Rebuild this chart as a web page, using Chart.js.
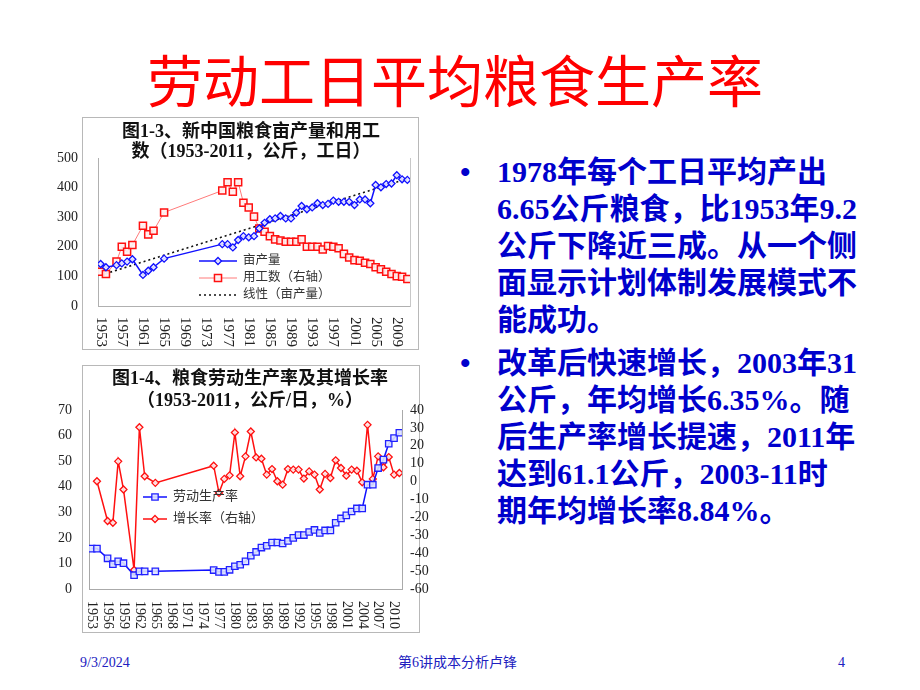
<!DOCTYPE html>
<html>
<head>
<meta charset="utf-8">
<script src="https://cdn.jsdelivr.net/npm/chart.js@4.4.1/dist/chart.umd.min.js"></script>
<style>
  body { margin:0; background:#fff; width:920px; height:690px; position:relative; overflow:hidden; }
  .title { position:absolute; left:0; top:48px; width:910px; text-align:center; color:#ff0000;
    font:56px/60px "Noto Sans CJK SC", sans-serif; }
  .frame { position:absolute; border:1px solid #b8b8b8; box-sizing:border-box; }
  canvas { position:absolute; }
  .bullet { position:absolute; left:460px; width:420px; color:#0000cc;
    font:bold 30px/37px "Liberation Serif", "Noto Sans CJK SC", serif; }
  .bullet .dot { position:absolute; left:0; top:0; }
  .bullet .txt { position:absolute; left:37px; top:0; white-space:nowrap; }
  .foot { position:absolute; top:654px; color:#2020c0; font:14px/18px "Liberation Serif", "Noto Sans CJK SC", serif; }
</style>
</head>
<body>
<div class="title">劳动工日平均粮食生产率</div>

<div class="frame" style="left:82px;top:117px;width:337px;height:233px"></div>
<canvas id="c1" width="420" height="245" style="left:30px;top:112px"></canvas>

<div class="frame" style="left:82px;top:365px;width:338px;height:268px"></div>
<canvas id="c2" width="420" height="275" style="left:30px;top:362px"></canvas>

<div class="bullet" style="top:153px"><span class="dot">•</span><span class="txt">1978年每个工日平均产出<br>6.65公斤粮食，比1953年9.2<br>公斤下降近三成。从一个侧<br>面显示计划体制发展模式不<br>能成功。</span></div>
<div class="bullet" style="top:344px"><span class="dot">•</span><span class="txt">改革后快速增长，2003年31<br>公斤，年均增长6.35%。随<br>后生产率增长提速，2011年<br>达到61.1公斤，2003-11时<br>期年均增长率8.84%。</span></div>

<div class="foot" style="left:80px">9/3/2024</div>
<div class="foot" style="left:398px">第6讲成本分析卢锋</div>
<div class="foot" style="left:838px">4</div>

<script>
/* ---------------------------- data --------------------------------------------- */

const years = [1953,1954,1956,1957,1958,1959,1961,1962,1963,1965,
    1976,1977,1978,1979,1980,1981,1982,1983,1984,1985,1986,1987,1988,1989,1990,
    1991,1992,1993,1994,1995,1996,1997,1998,1999,2000,2001,2002,2003,2004,2005,
    2006,2007,2008,2009,2010,2011]

// 图1-3
const yieldPerMu = [142,131,138,144,150,158,105,119,131,160,
    209,209,198,223,236,232,236,262,281,293,296,304,296,296,315,
    338,327,333,347,341,345,356,352,352,352,341,360,360,347,409,
    401,412,414,442,428,426]
const laborDays = [11.6,10.8,15.0,20.0,18.3,20.6,27.1,24.2,25.4,31.6,
    39.0,41.8,38.6,41.8,34.9,33.3,30.2,26.2,25.1,23.6,22.5,22.1,21.7,21.7,21.7,
    22.5,20.0,20.0,20.0,19.1,20.3,20.0,19.5,17.6,16.4,15.5,15.3,14.6,14.2,13.1,
    12.4,11.6,10.8,10.1,9.9,9.1]
const trendYears = [1953,2011]
const trendValues = [104,430]
const xTicks1 = [1953,1957,1961,1965,1969,1973,1977,1981,1985,1989,1993,1997,2001,2005,2009]

// 图1-4
const productivity = [15.8,15.8,12.0,9.7,10.8,10.1,5.4,6.9,6.9,6.9,
    7.4,6.7,6.7,7.5,8.9,9.5,10.8,13.0,14.5,16.2,16.9,18.2,18.2,17.8,18.8,
    20.0,21.1,21.1,22.3,23.1,21.9,22.9,22.9,25.9,27.6,28.8,30.3,31.5,31.5,40.8,
    40.8,47.3,50.6,56.8,59.0,61.1]
const growthRate = [null,0.2,-22.0,-23.0,11.3,-4.4,-49.4,30.4,3.0,-0.7,
    8.9,-6.3,1.5,3.5,27.4,3.0,14.1,28.0,13.5,12.8,3.9,7.0,0.2,-1.7,7.0,
    6.7,6.7,1.7,5.7,3.9,-4.4,4.3,2.0,11.9,7.6,3.3,6.7,6.1,-0.4,31.7,
    1.5,14.1,8.0,13.7,3.9,4.8]
const xTicks2 = [1953,1956,1959,1962,1965,1968,1971,1974,1977,1980,1983,1986,1989,1992,1995,1998,2001,2004,2007,2010]

const title1 = ['图1-3、新中国粮食亩产量和用工','数（1953-2011，公斤，工日）']
const title2 = ['图1-4、粮食劳动生产率及其增长率','（1953-2011，公斤/日，%）']

/* ---------------------------- helpers --------------------------------------------- */

const FONT = '"Liberation Serif", "Noto Sans CJK SC", serif'
Chart.defaults.font.family = FONT
Chart.defaults.color = '#222'

const toPoints = (xs, ys) => xs.map((x, i) => ({x: x, y: ys[i]})).filter(p => p.y !== null)

const drawMarker = (ctx, style, x, y, r, stroke, fill, lw) => {
    ctx.beginPath()
    if (style === 'rect') {
        const s = r * Math.SQRT1_2
        ctx.rect(x - s, y - s, 2 * s, 2 * s)
    } else {
        ctx.moveTo(x, y - r); ctx.lineTo(x + r, y); ctx.lineTo(x, y + r); ctx.lineTo(x - r, y); ctx.closePath()
    }
    ctx.fillStyle = fill; ctx.fill()
    ctx.lineWidth = lw; ctx.strokeStyle = stroke; ctx.stroke()
}

const titlePlugin = (lines, cx, cy, lh) => ({
    id: 'boxTitle',
    afterDraw(chart) {
        const ctx = chart.ctx
        ctx.save()
        ctx.font = 'bold 18px ' + FONT
        ctx.fillStyle = '#111'
        ctx.textAlign = 'center'
        ctx.textBaseline = 'middle'
        lines.forEach((t, i) => ctx.fillText(t, cx, cy + i * lh))
        ctx.restore()
    }
})

const yearLabelPlugin = (ticks, gap, size) => ({
    id: 'yearLabels',
    afterDraw(chart) {
        const ctx = chart.ctx
        const x = chart.scales.x
        ctx.save()
        ctx.font = size + 'px ' + FONT
        ctx.fillStyle = '#222'
        ctx.textAlign = 'left'
        ctx.textBaseline = 'middle'
        ticks.forEach(yr => {
            ctx.save()
            ctx.translate(x.getPixelForValue(yr), chart.chartArea.bottom + gap)
            ctx.rotate(Math.PI / 2)
            ctx.fillText(String(yr), 0, 0)
            ctx.restore()
        })
        ctx.restore()
    }
})

const legendPlugin = (x0, y0, rowGap, lineLen, size) => ({
    id: 'insideLegend',
    afterDraw(chart) {
        const ctx = chart.ctx
        ctx.save()
        ctx.font = size + 'px ' + FONT
        ctx.textBaseline = 'middle'
        chart.data.datasets.forEach((ds, i) => {
            const y = y0 + i * rowGap
            ctx.beginPath()
            ctx.setLineDash(ds.borderDash || [])
            ctx.lineWidth = ds.borderWidth
            ctx.strokeStyle = ds.borderColor
            ctx.moveTo(x0, y); ctx.lineTo(x0 + lineLen, y); ctx.stroke()
            ctx.setLineDash([])
            if (ds.pointRadius > 0) {
                drawMarker(ctx, ds.pointStyle, x0 + lineLen / 2, y, ds.pointRadius,
                    ds.pointBorderColor, ds.pointBackgroundColor, ds.pointBorderWidth)
            }
            ctx.fillStyle = '#333'
            ctx.textAlign = 'left'
            ctx.fillText(ds.label, x0 + lineLen + 6, y)
        })
        ctx.restore()
    }
})

/* ---------------------------- 图1-3 --------------------------------------------- */

new Chart(document.getElementById('c1'), {
    type: 'line',
    data: {
        datasets: [{
            label: '亩产量',
            data: toPoints(years, yieldPerMu),
            yAxisID: 'y',
            borderColor: '#1010ff',
            borderWidth: 1.5,
            pointStyle: 'rectRot',
            pointRadius: 3.5,
            pointBorderColor: '#1010ff',
            pointBackgroundColor: 'rgba(235,235,255,0.9)',
            pointBorderWidth: 1.3
        }, {
            label: '用工数（右轴）',
            data: toPoints(years, laborDays),
            yAxisID: 'y1',
            borderColor: '#ff7a7a',
            borderWidth: 1,
            pointStyle: 'rect',
            pointRadius: 5,
            pointBorderColor: '#ff1010',
            pointBackgroundColor: 'rgba(255,240,240,0.9)',
            pointBorderWidth: 1.5
        }, {
            label: '线性（亩产量）',
            data: toPoints(trendYears, trendValues),
            yAxisID: 'y',
            borderColor: '#111',
            borderWidth: 1.6,
            borderDash: [2, 3],
            pointRadius: 0
        }]
    },
    options: {
        responsive: false,
        animation: false,
        layout: {padding: {top: 46, bottom: 51, left: 0, right: 40}},
        plugins: {legend: {display: false}, tooltip: {enabled: false}},
        scales: {
            x: {type: 'linear', min: 1952.5, max: 2011.5,
                ticks: {display: false}, grid: {display: false, drawTicks: false},
                border: {color: '#b0b0b0'}, afterFit: s => { s.height = 0 }},
            y: {min: 0, max: 500,
                ticks: {stepSize: 100, padding: 20, autoSkip: false, font: {size: 14}},
                grid: {display: false, drawTicks: false},
                border: {color: '#b0b0b0'}, afterFit: s => { s.width = 68 }},
            y1: {position: 'right', min: 0, max: 50,
                ticks: {display: false}, grid: {display: false, drawTicks: false},
                border: {color: '#c8c8c8'}, afterFit: s => { s.width = 0 }}
        }
    },
    plugins: [titlePlugin(title1, 221, 20, 20), yearLabelPlugin(xTicks1, 11, 15), legendPlugin(169, 149, 17, 38, 12.5)]
})

/* ---------------------------- 图1-4 --------------------------------------------- */

new Chart(document.getElementById('c2'), {
    type: 'line',
    data: {
        datasets: [{
            label: '劳动生产率',
            data: toPoints(years, productivity),
            yAxisID: 'y',
            borderColor: '#1010ff',
            borderWidth: 1.5,
            pointStyle: 'rect',
            pointRadius: 4.5,
            pointBorderColor: '#2020ff',
            pointBackgroundColor: 'rgba(220,225,255,0.9)',
            pointBorderWidth: 1.3
        }, {
            label: '增长率（右轴）',
            data: toPoints(years, growthRate),
            yAxisID: 'y1',
            borderColor: '#ff1010',
            borderWidth: 1.5,
            pointStyle: 'rectRot',
            pointRadius: 3.5,
            pointBorderColor: '#ff1010',
            pointBackgroundColor: 'rgba(255,235,235,0.9)',
            pointBorderWidth: 1.3
        }]
    },
    options: {
        responsive: false,
        animation: false,
        layout: {padding: {top: 48, bottom: 48, left: 0, right: 0}},
        plugins: {legend: {display: false}, tooltip: {enabled: false}},
        scales: {
            x: {type: 'linear', min: 1952.5, max: 2011.5,
                ticks: {display: false}, grid: {display: false, drawTicks: false},
                border: {color: '#aaa', dash: [1, 2]}, afterFit: s => { s.height = 0 }},
            y: {min: 0, max: 70,
                ticks: {stepSize: 10, padding: 17, autoSkip: false, font: {size: 14}},
                grid: {display: false, drawTicks: false},
                border: {color: '#a8a8a8'}, afterFit: s => { s.width = 59 }},
            y1: {position: 'right', min: -60, max: 40,
                ticks: {stepSize: 10, padding: 8, autoSkip: false, font: {size: 14}},
                grid: {display: false, drawTicks: false},
                border: {color: '#aaa', dash: [1, 2]}, afterFit: s => { s.width = 48 }}
        }
    },
    plugins: [titlePlugin(title2, 220, 17, 22), yearLabelPlugin(xTicks2, 12, 14), legendPlugin(113, 135, 22, 24, 13)]
})
</script>
</body>
</html>
